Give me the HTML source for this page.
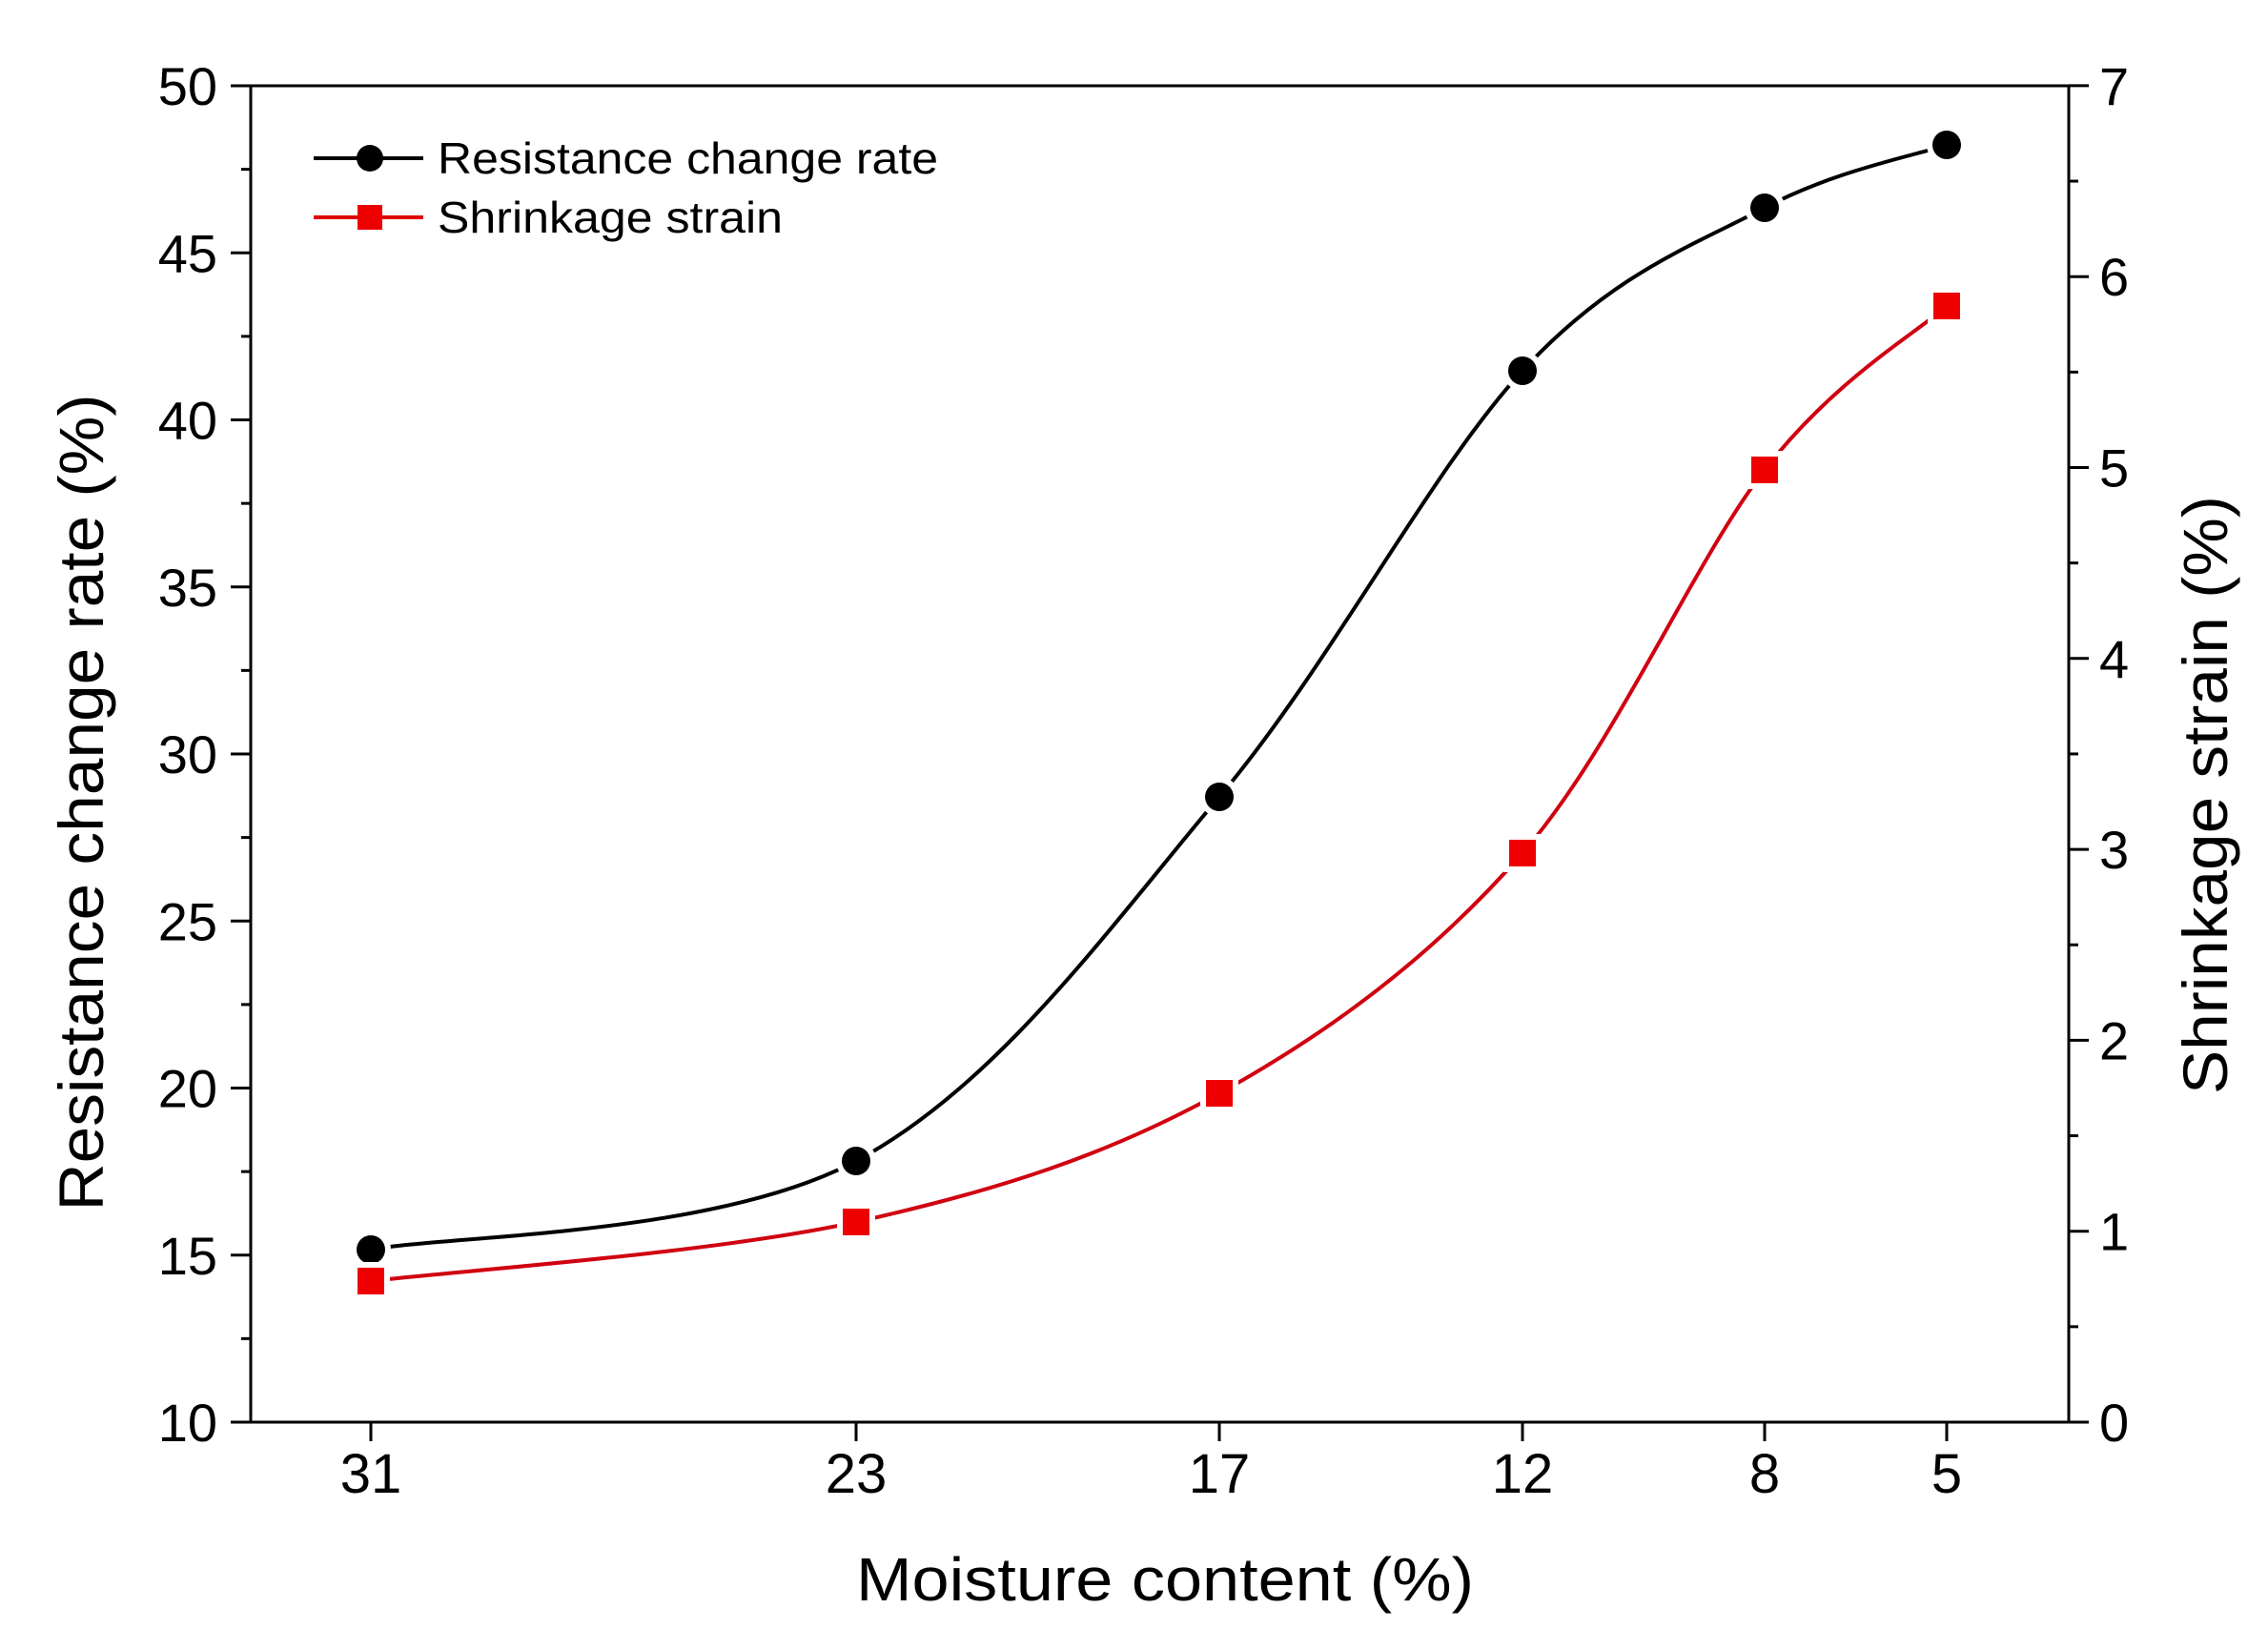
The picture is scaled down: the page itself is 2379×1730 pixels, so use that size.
<!DOCTYPE html>
<html><head><meta charset="utf-8"><style>
html,body{margin:0;padding:0;background:#fff;}
svg{display:block;}
text{font-family:"Liberation Sans",Arial,sans-serif;fill:#000;}
</style></head><body>
<svg id="s" width="2379" height="1730" viewBox="0 0 2379 1730" xmlns="http://www.w3.org/2000/svg">
<rect width="2379" height="1730" fill="#fff"/>
<g id="curves"></g>
<g id="marks"></g>
<g stroke="#000" stroke-width="3" fill="none">
<line x1="263" y1="90" x2="2170" y2="90"/>
<line x1="263" y1="88.5" x2="263" y2="1493.5"/>
<line x1="2170" y1="88.5" x2="2170" y2="1493.5"/>
<line x1="242" y1="1492" x2="2191" y2="1492"/>
</g>
<g id="ticks" stroke="#000" stroke-width="3"></g>
<g id="labels" font-size="56"></g>
<line x1="329" y1="166" x2="444" y2="166" stroke="#000" stroke-width="4"/>
<circle cx="388" cy="166" r="14" fill="#000"/>
<line x1="329" y1="228" x2="444" y2="228" stroke="#e00000" stroke-width="4"/>
<rect x="375" y="215" width="26" height="26" fill="#ee0000"/>
<text x="459" y="182" font-size="46" textLength="525" lengthAdjust="spacingAndGlyphs">Resistance change rate</text>
<text x="459" y="244" font-size="46" textLength="362" lengthAdjust="spacingAndGlyphs">Shrinkage strain</text>
<text x="1222" y="1679" font-size="64" text-anchor="middle" textLength="648" lengthAdjust="spacingAndGlyphs">Moisture content (%)</text>
<text transform="translate(108,842) rotate(-90)" font-size="66" text-anchor="middle" textLength="857" lengthAdjust="spacingAndGlyphs">Resistance change rate (%)</text>
<text transform="translate(2336,834) rotate(-90)" font-size="66" text-anchor="middle" textLength="628" lengthAdjust="spacingAndGlyphs">Shrinkage strain (%)</text>
</svg>
<script>
var NS="http://www.w3.org/2000/svg";
function el(p,t,a,txt){var e=document.createElementNS(NS,t);for(var k in a)e.setAttribute(k,a[k]);if(txt!==undefined)e.textContent=txt;p.appendChild(e);return e;}
var xs=[389,898,1279,1597,1851,2042];
var xl=["31","23","17","12","8","5"];
var blk=[1311,1218,836,389,218,152];
var red=[1344,1282,1147,895,493,321];
function path(ys){
  var d="M"+xs[0]+","+ys[0];
  for(var i=0;i<xs.length-1;i++){
    var p0x=i>0?xs[i-1]:xs[i],p0y=i>0?ys[i-1]:ys[i];
    var p3x=i<xs.length-2?xs[i+2]:xs[i+1],p3y=i<xs.length-2?ys[i+2]:ys[i+1];
    var c1x=xs[i]+(xs[i+1]-p0x)/6,c1y=ys[i]+(ys[i+1]-p0y)/6;
    var c2x=xs[i+1]-(p3x-xs[i])/6,c2y=ys[i+1]-(p3y-ys[i])/6;
    d+=" C"+c1x+","+c1y+" "+c2x+","+c2y+" "+xs[i+1]+","+ys[i+1];
  }
  return d;
}
var cg=document.getElementById("curves"),mg=document.getElementById("marks");
el(cg,"path",{d:path(blk),fill:"none",stroke:"#000","stroke-width":4});
el(cg,"path",{d:path(red),fill:"none",stroke:"#d00010","stroke-width":4});
for(var i=0;i<6;i++){
  el(mg,"circle",{cx:xs[i],cy:blk[i],r:15,fill:"#000",stroke:"#fff","stroke-width":12,"paint-order":"stroke"});
  el(mg,"rect",{x:xs[i]-14,y:red[i]-14,width:28,height:28,fill:"#ee0000",stroke:"#fff","stroke-width":12,"paint-order":"stroke"});
}
var tg=document.getElementById("ticks"),lg=document.getElementById("labels");
for(var v=10;v<=50;v+=2.5){
  var y=1492-(v-10)*35.05;var maj=(v%5===0);
  el(tg,"line",{x1:263,y1:y,x2:maj?242:253,y2:y});
  if(maj)el(lg,"text",{x:228,y:y+20,"text-anchor":"end"},String(v));
}
for(var k=0;k<=14;k++){
  var v2=k/2;var y2=1492-v2*200.3;var mj=(k%2===0);
  el(tg,"line",{x1:2170,y1:y2,x2:mj?2191:2180,y2:y2});
  if(mj)el(lg,"text",{x:2202,y:y2+20},String(v2));
}
for(var i=0;i<6;i++){
  el(tg,"line",{x1:xs[i],y1:1492,x2:xs[i],y2:1512});
  el(lg,"text",{x:xs[i],y:1566,"text-anchor":"middle","font-size":58},xl[i]);
}
</script>
</body></html>
